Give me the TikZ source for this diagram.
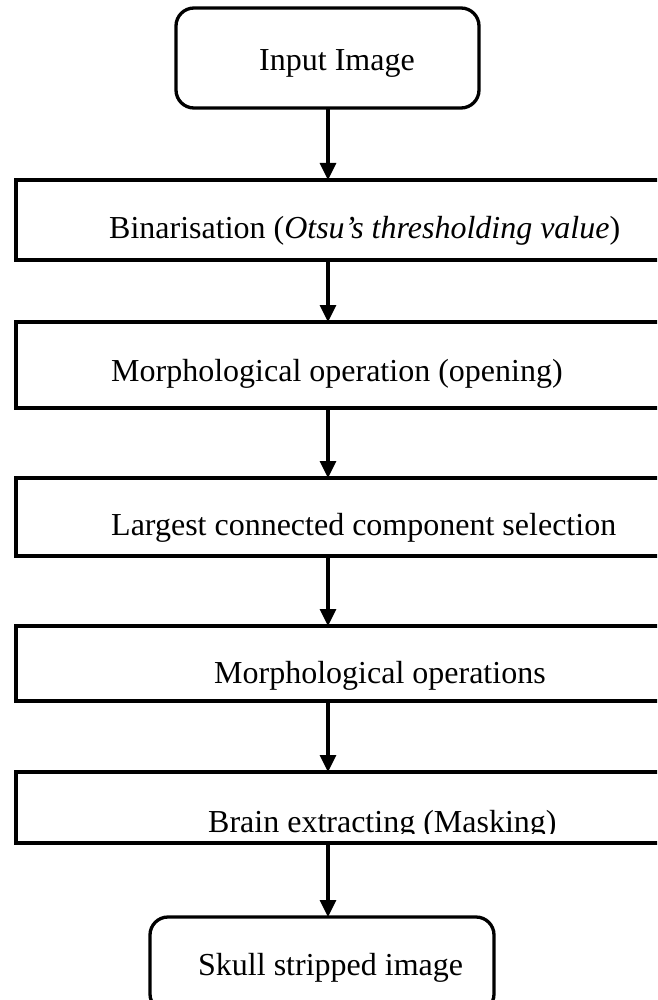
\documentclass[tikz,border=0pt]{standalone}
\usepackage{fontspec}
\setmainfont{Liberation Serif}
\usetikzlibrary{arrows.meta}
\begin{document}
\begin{tikzpicture}[x=1pt,y=-1pt,
  boxline/.style={draw=black,line width=3.3pt,inner sep=0pt,outer sep=0pt,fill=white},
  stepbox/.style={boxline,rectangle,minimum width=664pt},
  termbox/.style={boxline,rectangle,rounded corners=18pt},
  txt/.style={anchor=base west,inner sep=0pt,font=\fontsize{32}{38}\selectfont},
  arr/.style={line width=3.3pt,-{Triangle[length=17pt,width=16pt]}}]
\clip (0,0) rectangle (657,1000);
\coordinate (ax) at (328,0);
% boxes
\node[termbox,minimum width=303pt,minimum height=100pt] (in) at (327.5,58) {};
\node[stepbox,minimum height=80pt] (bin) at (348,220) {};
\node[stepbox,minimum height=86pt] (open) at (348,365) {};
\node[stepbox,minimum height=78pt] (lcc) at (348,517) {};
\node[stepbox,minimum height=75pt] (morph) at (348,663.5) {};
\node[stepbox,minimum height=71pt] (mask) at (348,807.5) {};
\node[termbox,minimum width=344pt,minimum height=95pt] (out) at (322,964.5) {};
% texts
\node[txt] (tin) at (259,71) {Input Image};
\node[txt] (tbin) at (109,238) {Binarisation (\textit{Otsu’s thresholding value})};
\node[txt] (topen) at (111,381) {Morphological operation (opening)};
\node[txt] (tlcc) at (111,535) {Largest connected component selection};
\node[txt] (tmorph) at (214,683) {Morphological operations};
\begin{scope}
\clip (0,772) rectangle (657,833);
\node[txt] (tmask) at (208,832) {Brain extracting (Masking)};
\end{scope}
\node[txt] (tout) at (198,975) {Skull stripped image};
% arrows
\draw[arr] (in.south -| ax) -- (bin.north -| ax);
\draw[arr] (bin.south -| ax) -- (open.north -| ax);
\draw[arr] (open.south -| ax) -- (lcc.north -| ax);
\draw[arr] (lcc.south -| ax) -- (morph.north -| ax);
\draw[arr] (morph.south -| ax) -- (mask.north -| ax);
\draw[arr] (mask.south -| ax) -- (out.north -| ax);
\end{tikzpicture}
\end{document}
